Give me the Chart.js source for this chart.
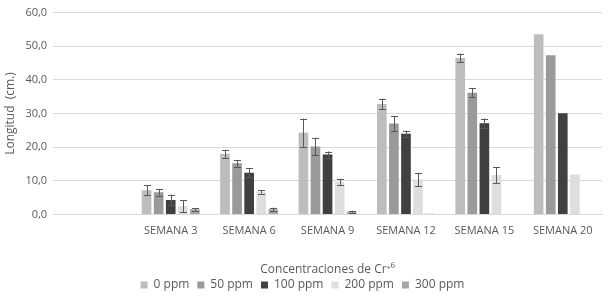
<!DOCTYPE html>
<html><head><meta charset="utf-8">
<script src="https://cdn.jsdelivr.net/npm/chart.js@4"></script>
<style>html,body{margin:0;padding:0;background:#fff}#wrap{width:608px;height:296px}</style>
</head><body><div id="wrap"><canvas id="c"></canvas></div>
<script>
const categories = ['', 'SEMANA 3', 'SEMANA 6', 'SEMANA 9', 'SEMANA 12', 'SEMANA 15', 'SEMANA 20'];
const seriesNames = ['0 ppm', '50 ppm', '100 ppm', '200 ppm', '300 ppm'];
const ppm0   = [null, 7.2, 18.0, 24.3, 32.8, 46.5, 53.6];
const ppm50  = [null, 6.6, 15.2, 20.2, 27.0, 36.2, 47.3];
const ppm100 = [null, 4.3, 12.4, 17.8, 24.0, 27.1, 30.1];
const ppm200 = [null, 2.5, 6.7, 9.7, 10.4, 11.7, 11.9];
const ppm300 = [null, 1.5, 1.5, 0.8, 0.2, 0, 0];
const err0   = [null, 1.4, 1.2, 4.2, 1.6, 1.3, 0];
const err50  = [null, 1.0, 1.0, 2.6, 2.3, 1.4, 0];
const err100 = [null, 1.6, 1.3, 0.9, 0.9, 1.4, 0];
const err200 = [null, 1.8, 0.5, 0.9, 2.0, 2.3, 0];
const err300 = [null, 0.4, 0.5, 0.3, 0, 0, 0];
const yTicks = [0, 10, 20, 30, 40, 50, 60];

const colors = ['#bdbdbd', '#9a9a9a', '#404040', '#dedede', '#a5a5a5'];
const values = [ppm0, ppm50, ppm100, ppm200, ppm300];
const errors = [err0, err50, err100, err200, err300];

const errorBars = {
  id: 'errorBars',
  afterDatasetsDraw(chart) {
    const ctx = chart.ctx;
    const y = chart.scales.y;
    ctx.save();
    ctx.strokeStyle = '#595959';
    ctx.lineWidth = 1;
    chart.data.datasets.forEach((ds, di) => {
      const meta = chart.getDatasetMeta(di);
      meta.data.forEach((bar, i) => {
        const v = ds.data[i], e = ds.errors[i];
        if (v == null || !e) return;
        const x = Math.round(bar.x) + 0.5;
        const yt = y.getPixelForValue(v + e), yb = y.getPixelForValue(v - e);
        ctx.beginPath();
        ctx.moveTo(x, yt); ctx.lineTo(x, yb);
        ctx.moveTo(x - 3.5, Math.round(yt) + 0.5); ctx.lineTo(x + 3.5, Math.round(yt) + 0.5);
        ctx.moveTo(x - 3.5, Math.round(yb) + 0.5); ctx.lineTo(x + 3.5, Math.round(yb) + 0.5);
        ctx.stroke();
      });
    });
    ctx.restore();
  }
};

new Chart(document.getElementById('c'), {
  type: 'bar',
  data: {
    labels: categories,
    datasets: seriesNames.map((n, k) => ({
      label: n, data: values[k], errors: errors[k], backgroundColor: colors[k],
      categoryPercentage: 0.77, barPercentage: 0.8
    }))
  },
  plugins: [errorBars],
  options: {
    responsive: true, maintainAspectRatio: false, animation: false,
    layout: { padding: { left: 3, right: 6, top: 1, bottom: -5 } },
    scales: {
      x: {
        grid: { display: false, drawTicks: false },
        border: { color: '#d9d9d9' },
        ticks: { color: '#595959', font: { family: 'Open Sans', size: 11 }, padding: 10, maxRotation: 0, autoSkip: false },
        title: { display: true, text: 'Concentraciones de Cr⁺⁶', color: '#595959', font: { family: 'Open Sans', size: 12 }, padding: { top: 15, bottom: -6 } }
      },
      y: {
        min: 0, max: 60,
        afterBuildTicks: (s) => { s.ticks = yTicks.map(v => ({ value: v })); },
        grid: { color: '#d9d9d9', drawTicks: false },
        border: { display: false },
        ticks: { color: '#595959', font: { family: 'Open Sans', size: 11 }, padding: 6,
          callback: (v) => v.toFixed(1).replace('.', ',') },
        title: { display: true, text: 'Longitud  (cm.)', color: '#595959', font: { family: 'Open Sans', size: 12 }, padding: { top: 0, bottom: 2 } }
      }
    },
    plugins: {
      legend: {
        position: 'bottom',
        labels: { color: '#595959', font: { family: 'Open Sans', size: 12 }, boxWidth: 7, boxHeight: 7, padding: 8 }
      },
      tooltip: { enabled: false }
    }
  }
});
</script>
</body></html>
